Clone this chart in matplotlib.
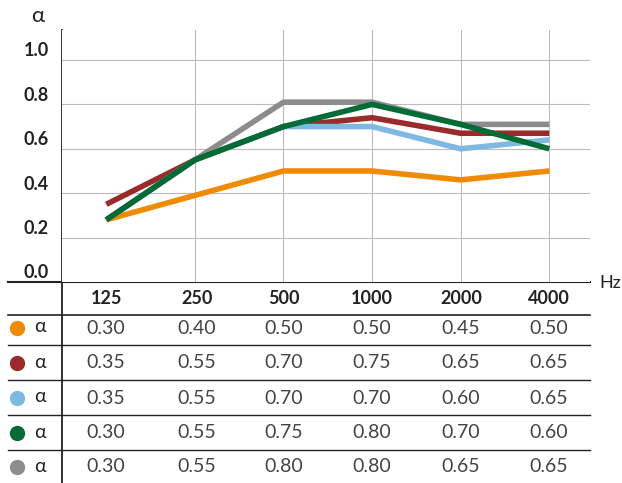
import matplotlib.pyplot as plt

freqs = ["125", "250", "500", "1000", "2000", "4000"]
colors = ["#F08A00", "#9B2B2B", "#7DB9E0", "#006B35", "#8C8C8C"]

# values as drawn in the plot
plot_orange = [0.28, 0.39, 0.50, 0.50, 0.46, 0.50]
plot_red = [0.35, 0.55, 0.70, 0.74, 0.67, 0.67]
plot_blue = [0.28, 0.55, 0.70, 0.70, 0.60, 0.64]
plot_green = [0.28, 0.55, 0.70, 0.80, 0.71, 0.60]
plot_gray = [0.28, 0.55, 0.81, 0.81, 0.71, 0.71]
plot_series = [plot_orange, plot_red, plot_blue, plot_gray, plot_green]
plot_colors = [colors[0], colors[1], colors[2], colors[4], colors[3]]

# values in the table
tab_orange = ["0.30", "0.40", "0.50", "0.50", "0.45", "0.50"]
tab_red = ["0.35", "0.55", "0.70", "0.75", "0.65", "0.65"]
tab_blue = ["0.35", "0.55", "0.70", "0.70", "0.60", "0.65"]
tab_green = ["0.30", "0.55", "0.75", "0.80", "0.70", "0.60"]
tab_gray = ["0.30", "0.55", "0.80", "0.80", "0.65", "0.65"]
table_rows = [tab_orange, tab_red, tab_blue, tab_green, tab_gray]

yticks = [0.0, 0.2, 0.4, 0.6, 0.8, 1.0]

W, H = 622, 483
fig = plt.figure(figsize=(W / 100, H / 100), dpi=100)
plt.rcParams['font.family'] = ['Lato', 'DejaVu Sans']

# overlay axes in pixel coordinates for table and labels
tax = fig.add_axes([0, 0, 1, 1])
tax.set_xlim(0, W)
tax.set_ylim(H, 0)
tax.axis('off')

ax = fig.add_axes([62 / W, 1 - 282 / H, (590 - 62) / W, (282 - 30) / H])
xs = list(range(len(freqs)))
ax.set_xlim(-0.5, 5.46)
ax.set_ylim(0, 1.135)
for x in xs[1:]:
    ax.axvline(x, color="#BBBBBB", lw=0.8, zorder=0)
for y in yticks[1:]:
    ax.axhline(y, color="#BBBBBB", lw=0.8, zorder=0)
for vals, c in zip(plot_series, plot_colors):
    ax.plot(xs, vals, color=c, lw=4, solid_capstyle='butt', zorder=2)
ax.set_xticks([])
ax.set_yticks([])
for s in ax.spines.values():
    s.set_visible(False)

# y labels
for y in yticks:
    py = 282 - y * 222
    tax.text(49, py - 9, f"{y:.1f}", ha='right', va='center', fontsize=13, fontweight='bold', color="#222222")
tax.text(38, 16, "α", ha='center', va='center', fontsize=16, color="#222222")
tax.text(610, 283, "Hz", ha='center', va='center', fontsize=13, color="#222222")

# axis lines
tax.plot([62, 62], [30, 483], color="#222222", lw=1.3)
tax.plot([8, 590], [282, 282], color="#222222", lw=1.5)

# table
col_x = [106, 197, 284, 372, 461, 549]
for cx, f in zip(col_x, freqs):
    tax.text(cx, 299, f, ha='center', va='center', fontsize=13, fontweight='bold', color="#222222")
tax.plot([8, 590], [315, 315], color="#222222", lw=1.2)
row_y = [328, 363, 398, 433, 467]
for i, (ry, vals) in enumerate(zip(row_y, table_rows)):
    tax.scatter([17], [ry], s=100, color=colors[i], zorder=3)
    tax.text(40, ry - 1, "α", ha='center', va='center', fontsize=14, color="#222222")
    for cx, v in zip(col_x, vals):
        tax.text(cx, ry, v, ha='center', va='center', fontsize=14, color="#444444")
    if i < len(row_y) - 1:
        tax.plot([8, 590], [ry + 17, ry + 17], color="#222222", lw=1.0)

fig.savefig("out.png", dpi=100)
